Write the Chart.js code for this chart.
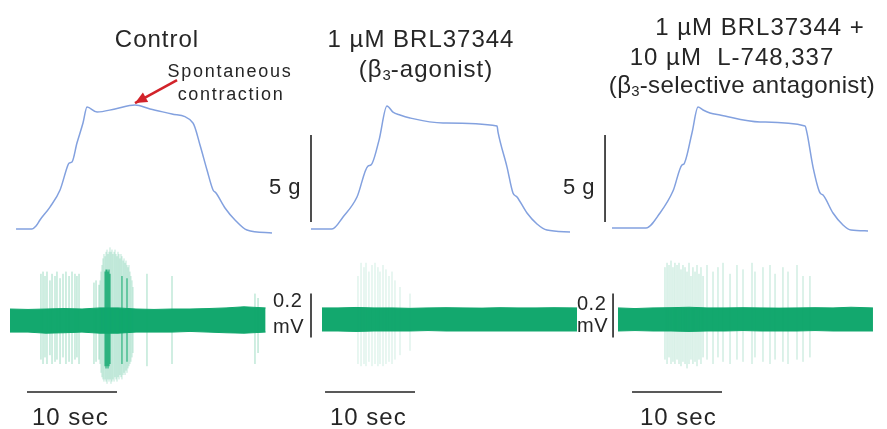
<!DOCTYPE html>
<html>
<head>
<meta charset="utf-8">
<script src="https://cdn.jsdelivr.net/npm/chart.js@4.4.1/dist/chart.umd.min.js"></script>
<style>
  html, body { margin: 0; padding: 0; background: #fff; }
  #wrap { position: relative; width: 887px; height: 429px; overflow: hidden;
          font-family: "Liberation Sans", Arial, sans-serif; color: #262626; }
  #wrap canvas { position: absolute; left: 0; top: 0; }
  .lbl { position: absolute; white-space: nowrap; line-height: 1; font-size: 24px; letter-spacing: 1px; }
  .c { transform: translateX(-50%); }
  .sm { font-size: 18px; letter-spacing: 1.7px; }
  .g { font-size: 22px; letter-spacing: .5px; }
  .mv { font-size: 20px; letter-spacing: .5px; }
  sub { font-size: 62%; vertical-align: -0.22em; line-height: 0; letter-spacing: 0; }
</style>
</head>
<body>
<div id="wrap">
  <canvas id="trace" width="887" height="429"></canvas>

  <div class="lbl c" style="left:157px;top:27px">Control</div>
  <div class="lbl sm c" style="left:230px;top:62px">Spontaneous</div>
  <div class="lbl sm c" style="left:231px;top:85px">contraction</div>

  <div class="lbl c" style="left:421px;top:27px">1 µM BRL37344</div>
  <div class="lbl c" style="left:426px;top:57px">(β<sub>3</sub>-agonist)</div>

  <div class="lbl c" style="left:760px;top:15px">1 µM BRL37344 +</div>
  <div class="lbl c" style="left:732px;top:45px">10 µM&nbsp; L-748,337</div>
  <div class="lbl c" style="left:742px;top:73px;letter-spacing:.4px">(β<sub>3</sub>-selective antagonist)</div>

  <div class="lbl g" style="left:269px;top:176px">5 g</div>
  <div class="lbl g" style="left:563px;top:176px">5 g</div>

  <div class="lbl mv" style="left:273px;top:290px">0.2</div>
  <div class="lbl mv" style="left:273px;top:316px">mV</div>
  <div class="lbl mv" style="left:577px;top:293px">0.2</div>
  <div class="lbl mv" style="left:577px;top:315px">mV</div>

  <div class="lbl" style="left:32px;top:405px">10 sec</div>
  <div class="lbl" style="left:330px;top:405px">10 sec</div>
  <div class="lbl" style="left:640px;top:405px">10 sec</div>
</div>

<script>
// Force (g) vs time (s), one trace per condition
const ctrlForceT = [0.67, 2.44, 2.89, 3.33, 4.44, 5.56, 6.44, 6.56, 6.89, 7.44, 8.11, 8.56, 9.67, 11.67, 13.89, 15.56, 18.0, 20.33, 21.11, 21.89, 22.56, 22.89, 23.89, 25.0, 26.33, 29.11];
const ctrlForceG = [0, 0, 0.17, 0.52, 1.26, 2.24, 3.68, 3.79, 3.85, 4.94, 6.09, 7.01, 6.72, 6.90, 7.13, 6.90, 6.61, 6.09, 4.83, 3.39, 2.24, 2.07, 1.21, 0.52, -0.06, -0.23];
const agoForceT = [-1.0, 1.33, 2.56, 4.11, 5.33, 5.67, 6.56, 7.44, 8.11, 8.89, 10.0, 13.67, 19.67, 19.78, 20.78, 21.44, 21.89, 23.0, 24.11, 25.22, 27.78];
const agoForceG = [0, 0, 0.69, 1.84, 3.62, 3.68, 5.11, 7.07, 6.72, 6.55, 6.38, 6.09, 5.92, 5.57, 3.56, 2.07, 1.84, 0.92, 0.29, -0.06, -0.17];
const antForceT = [-0.56, 3.22, 4.78, 6.22, 7.22, 7.44, 8.33, 9.0, 9.56, 10.33, 11.44, 15.89, 20.89, 21.11, 21.78, 22.56, 22.89, 24.0, 25.11, 26.0, 27.89];
const antForceG = [0.06, 0.06, 0.92, 2.18, 3.68, 3.74, 5.52, 7.01, 6.84, 6.67, 6.55, 6.15, 5.92, 5.52, 3.56, 2.07, 1.95, 0.92, 0.23, -0.06, -0.11];

// EMG baseline noise envelope (mV)
const emg1T  = [0, 2, 4, 6, 8, 10, 12, 14, 16, 18, 20, 22, 24, 26, 28.4];
const emg1Hi = [0.05, 0.048, 0.05, 0.052, 0.05, 0.055, 0.055, 0.05, 0.048, 0.05, 0.05, 0.052, 0.055, 0.06, 0.055];
const emg1Lo = [-0.055, -0.055, -0.06, -0.058, -0.055, -0.06, -0.06, -0.055, -0.055, -0.055, -0.052, -0.055, -0.058, -0.06, -0.055];
const emg2T  = [0.22, 2, 4, 6, 8, 10, 12, 14, 16, 18, 20, 22, 24, 26, 28.56];
const emg2Hi = [0.055, 0.055, 0.057, 0.055, 0.055, 0.053, 0.055, 0.056, 0.055, 0.054, 0.056, 0.055, 0.055, 0.056, 0.055];
const emg2Lo = [-0.05, -0.05, -0.052, -0.05, -0.05, -0.05, -0.048, -0.05, -0.05, -0.05, -0.05, -0.05, -0.05, -0.05, -0.05];
const emg3T  = [0.11, 2, 4, 6, 8, 10, 12, 14, 16, 18, 20, 22, 24, 26, 28.44];
const emg3Hi = [0.055, 0.052, 0.055, 0.056, 0.058, 0.055, 0.055, 0.056, 0.055, 0.054, 0.055, 0.056, 0.055, 0.058, 0.055];
const emg3Lo = [-0.05, -0.048, -0.05, -0.05, -0.052, -0.05, -0.05, -0.048, -0.05, -0.05, -0.05, -0.048, -0.05, -0.05, -0.05];

// EMG spikes: time (s), peak and trough (mV)
const spk1T  = [3.44, 3.67, 3.89, 4.11, 4.44, 4.67, 5.0, 5.22, 5.56, 5.89, 6.22, 6.56, 6.89, 7.22, 7.44, 7.67, 9.33, 9.56, 9.89,
                15.22, 18.0, 27.22, 27.56];
const spk1Hi = [0.21, 0.22, 0.2, 0.22, 0.18, 0.21, 0.2, 0.22, 0.19, 0.21, 0.22, 0.2, 0.22, 0.21, 0.2, 0.21, 0.17, 0.18, 0.16,
                0.21, 0.2, 0.12, 0.1];
const spk1Lo = [-0.18, -0.2, -0.17, -0.2, -0.16, -0.2, -0.19, -0.18, -0.2, -0.17, -0.2, -0.19, -0.2, -0.18, -0.17, -0.2, -0.2, -0.19, -0.18,
                -0.21, -0.2, -0.2, -0.15];
// dense burst during the spontaneous contraction
const burst1T  = [10.0, 10.11, 10.22, 10.33, 10.44, 10.56, 10.67, 10.78, 10.89, 11.0, 11.11, 11.22, 11.33, 11.44, 11.56, 11.67, 11.78,
                  11.89, 12.0, 12.11, 12.22, 12.33, 12.44, 12.56, 12.67, 12.78, 12.89, 13.0, 13.11, 13.22, 13.33, 13.44, 13.56, 13.67];
const burst1Hi = [0.18, 0.22, 0.25, 0.28, 0.3, 0.29, 0.31, 0.32, 0.3, 0.31, 0.33, 0.31, 0.32, 0.3, 0.31, 0.32, 0.3,
                  0.29, 0.31, 0.3, 0.28, 0.3, 0.29, 0.27, 0.28, 0.26, 0.27, 0.25, 0.24, 0.25, 0.22, 0.2, 0.18, 0.15];
const burst1Lo = [-0.2, -0.24, -0.26, -0.27, -0.28, -0.27, -0.28, -0.29, -0.27, -0.28, -0.27, -0.29, -0.28, -0.27, -0.28, -0.26, -0.27,
                  -0.28, -0.26, -0.27, -0.25, -0.26, -0.27, -0.25, -0.24, -0.25, -0.23, -0.24, -0.22, -0.21, -0.2, -0.19, -0.17, -0.15];
const core1T  = [10.56, 10.67, 10.78, 10.89, 11.0, 11.11, 12.44, 13.0];
const core1Hi = [0.22, 0.23, 0.23, 0.22, 0.23, 0.21, 0.2, 0.19];
const core1Lo = [-0.21, -0.22, -0.21, -0.22, -0.21, -0.2, -0.2, -0.19];

const spk2T  = [4.22, 4.56, 4.89, 5.11, 5.44, 5.78, 6.11, 6.44, 6.67, 7.0, 7.33, 7.67, 8.0, 8.33, 8.89, 10.0];
const spk2Hi = [0.2, 0.26, 0.24, 0.26, 0.22, 0.25, 0.26, 0.24, 0.22, 0.25, 0.23, 0.2, 0.22, 0.18, 0.15, 0.12];
const spk2Lo = [-0.2, -0.21, -0.2, -0.21, -0.19, -0.21, -0.2, -0.21, -0.2, -0.21, -0.2, -0.19, -0.2, -0.18, -0.16, -0.14];

const spk3T  = [5.33, 5.56, 5.78, 6.0, 6.22, 6.44, 6.67, 6.89, 7.11, 7.33, 7.56, 7.78, 8.0, 8.22, 8.44, 8.67, 8.89, 9.11, 9.33, 9.56,
                10.0, 10.67, 11.22, 11.78, 12.56, 13.33, 14.0, 15.0, 15.33, 16.22, 17.0, 17.56, 18.44, 19.0, 20.0, 20.67, 21.44];
const spk3Hi = [0.24, 0.26, 0.25, 0.27, 0.24, 0.26, 0.25, 0.26, 0.23, 0.25, 0.24, 0.22, 0.26, 0.2, 0.24, 0.22, 0.25, 0.21, 0.24, 0.2,
                0.25, 0.22, 0.24, 0.26, 0.21, 0.25, 0.23, 0.26, 0.22, 0.24, 0.25, 0.21, 0.24, 0.22, 0.25, 0.2, 0.2];
const spk3Lo = [-0.18, -0.2, -0.17, -0.2, -0.19, -0.2, -0.18, -0.2, -0.21, -0.19, -0.2, -0.22, -0.2, -0.18, -0.2, -0.19, -0.21, -0.18, -0.2, -0.17,
                -0.18, -0.2, -0.17, -0.19, -0.2, -0.18, -0.19, -0.2, -0.17, -0.19, -0.2, -0.18, -0.19, -0.2, -0.18, -0.19, -0.17];

// Calibration bars and annotation arrow
const forceBar = [0.4, 5.4];          // 5 g
const emgBar = [-0.08, 0.12];         // 0.2 mV
const timeBarStart = [1.89, 0.56, 1.67];
const timeBarLen = 10;                // 10 sec
const arrowFrom = [18.56, 8.56];      // s, g (control panel)
const arrowTo = [13.89, 7.24];

(function() {
  const W = 887, H = 429;
  const PX_S = 9, PX_G = 17.4, PX_MV = 220;
  const X0 = [10, 320, 617];          // canvas x where t = 0, per panel
  const FORCE_Y0 = 229, EMG_Y0 = 320, BAR_Y = 392;
  const BLUE = '#83a1df', GREEN = '#13a86e', INK = '#222';
  const spike = a => 'rgba(19,168,110,' + a + ')';

  const axis = (min, max) => ({ type: 'linear', display: false, min, max });
  const scales = {
    yF: axis(-(H - FORCE_Y0) / PX_G, FORCE_Y0 / PX_G),
    yE: axis(-(H - EMG_Y0) / PX_MV, EMG_Y0 / PX_MV)
  };
  X0.forEach((x0, i) => { scales['x' + (i + 1)] = axis(-x0 / PX_S, (W - x0) / PX_S); });

  const pts = (ts, ys) => ts.map((t, i) => ({ x: t, y: ys[i] }));
  const sticks = (ts, hi, lo) => ts.flatMap((t, i) => [{ x: t, y: lo[i] }, { x: t, y: hi[i] }, { x: t, y: null }]);
  const line = (data, xAxisID, yAxisID, color, width, extra) => Object.assign({
    data, xAxisID, yAxisID, borderColor: color, borderWidth: width,
    pointRadius: 0, fill: false, tension: 0, spanGaps: false
  }, extra || {});
  const band = (ts, hi, lo, xId) => [
    line(pts(ts, hi), xId, 'yE', GREEN, 1, { fill: '+1', backgroundColor: GREEN }),
    line(pts(ts, lo), xId, 'yE', GREEN, 1)
  ];
  const force = (ts, gs, xId) => line(pts(ts, gs), xId, 'yF', BLUE, 1.5, { cubicInterpolationMode: 'monotone' });
  const barY = (EMG_Y0 - BAR_Y) / PX_MV;

  const datasets = [
    // spikes first so the solid band sits on top of their middle
    line(sticks(spk1T, spk1Hi, spk1Lo), 'x1', 'yE', spike(0.45), 0.9),
    line(sticks(burst1T, burst1Hi, burst1Lo), 'x1', 'yE', spike(0.28), 1),
    line(sticks(core1T, core1Hi, core1Lo), 'x1', 'yE', spike(0.85), 1.2),
    line(sticks(spk2T, spk2Hi, spk2Lo), 'x2', 'yE', spike(0.22), 0.9),
    line(sticks(spk3T, spk3Hi, spk3Lo), 'x3', 'yE', spike(0.33), 0.9),
    ...band(emg1T, emg1Hi, emg1Lo, 'x1'),
    ...band(emg2T, emg2Hi, emg2Lo, 'x2'),
    ...band(emg3T, emg3Hi, emg3Lo, 'x3'),
    force(ctrlForceT, ctrlForceG, 'x1'),
    force(agoForceT, agoForceG, 'x2'),
    force(antForceT, antForceG, 'x3'),
    // calibration bars
    line(pts([-1.0, -1.0], forceBar), 'x2', 'yF', INK, 1.6),
    line(pts([-1.33, -1.33], forceBar), 'x3', 'yF', INK, 1.6),
    line(pts([-1.0, -1.0], emgBar), 'x2', 'yE', INK, 1.6),
    line(pts([-0.44, -0.44], emgBar), 'x3', 'yE', INK, 1.6),
    ...timeBarStart.map((t0, i) => line(pts([t0, t0 + timeBarLen], [barY, barY]), 'x' + (i + 1), 'yE', INK, 1.6)),
    line(pts([arrowFrom[0], arrowTo[0]], [arrowFrom[1], arrowTo[1]]), 'x1', 'yF', '#d2232a', 2.6)
  ];

  // filled head for the "spontaneous contraction" arrow
  const arrowHead = {
    id: 'arrowHead',
    afterDatasetsDraw(chart) {
      const { ctx, scales: s } = chart;
      const tx = s.x1.getPixelForValue(arrowFrom[0]), ty = s.yF.getPixelForValue(arrowFrom[1]);
      const hx = s.x1.getPixelForValue(arrowTo[0]), hy = s.yF.getPixelForValue(arrowTo[1]);
      const a = Math.atan2(hy - ty, hx - tx), len = 12, half = 5.5;
      ctx.save();
      ctx.fillStyle = '#d2232a';
      ctx.beginPath();
      ctx.moveTo(hx, hy);
      ctx.lineTo(hx - len * Math.cos(a) + half * Math.sin(a), hy - len * Math.sin(a) - half * Math.cos(a));
      ctx.lineTo(hx - len * Math.cos(a) - half * Math.sin(a), hy - len * Math.sin(a) + half * Math.cos(a));
      ctx.closePath();
      ctx.fill();
      ctx.restore();
    }
  };

  new Chart(document.getElementById('trace'), {
    type: 'line',
    data: { datasets },
    options: {
      responsive: false,
      animation: false,
      layout: { padding: 0 },
      scales,
      plugins: { legend: { display: false }, tooltip: { enabled: false } },
      events: []
    },
    plugins: [arrowHead]
  });
})();
</script>
</body>
</html>
